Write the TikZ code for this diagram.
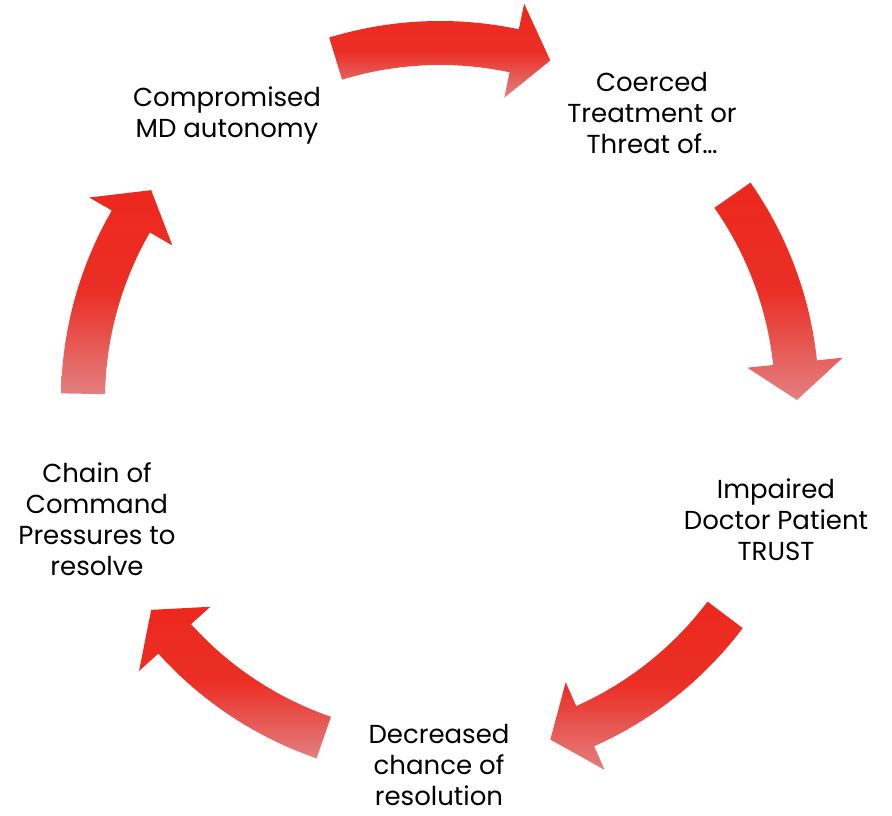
\documentclass[tikz,border=0pt]{standalone}
\usepackage{fontspec}
\setmainfont{Poppins}
\usepackage{tikz}
\usetikzlibrary{arrows,positioning}

\definecolor{arrowred}{RGB}{236,40,30}
\definecolor{arrowpale}{RGB}{226,128,128}

\tikzset{
	label/.style={align=center,inner sep=0pt,font=\fontsize{26}{31}\selectfont},
	arrowfill/.style={top color=arrowred,bottom color=arrowpale,middle color=arrowred!92!arrowpale}
}

% one curved arrow on the circle round (c), starting at angle #1, running clockwise
\newcommand{\cyclearrow}[1]{%
	\shade[arrowfill,shift={(c)}] (#1:379) arc[start angle=#1,end angle=#1-29,radius=379]
		-- (#1-29:405) -- (#1-35:357) -- (#1-29:309) -- (#1-29:335)
		arc[start angle=#1-29,end angle=#1,radius=335] -- cycle;}

\begin{document}
\begin{tikzpicture}[x=1pt,y=1pt]
	\useasboundingbox (0,0) rectangle (892,-816);
	\coordinate(c) at (440,-400);

	\cyclearrow{107}
	\cyclearrow{35}
	\cyclearrow{-37}
	\cyclearrow{-109}
	\cyclearrow{-181}

	\node[label] (comp) at (227,-115) {Compromised\\MD autonomy};
	\node[label] (coer) at (652,-113) {Coerced\\Treatment or\\Threat of…};
	\node[label] (trust) at (776,-520) {Impaired\\Doctor Patient\\TRUST};
	\node[label] (decr) at (439,-765) {Decreased\\chance of\\resolution};
	\node[label] (chain) at (97,-519) {Chain of\\Command\\Pressures to\\resolve};
\end{tikzpicture}
\end{document}
